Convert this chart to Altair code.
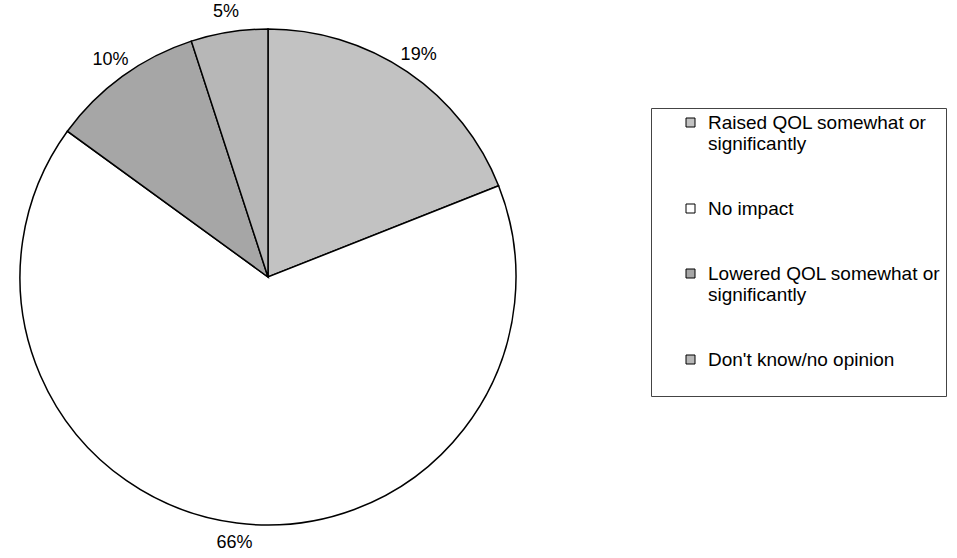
import altair as alt
import pandas as pd

# Data
categories = [
    "Raised QOL somewhat or|significantly",
    "No impact",
    "Lowered QOL somewhat or|significantly",
    "Don't know/no opinion",
]
values = [19, 66, 10, 5]
pct_labels = ["19%", "66%", "10%", "5%"]
slice_order = [0, 1, 2, 3]
colors = ["#c2c2c2", "#ffffff", "#a6a6a6", "#b7b7b7"]

df = pd.DataFrame(
    {"category": categories, "value": values, "label": pct_labels, "order": slice_order}
)

FONT = "Liberation Sans"
CX, CY = 268, 277
NB = "\u00a0" * 6

label_expr = (
    "indexof(datum.label, '|') >= 0 ? split(replace(datum.label, '|', '" + NB + "|'), '|')"
    " : (indexof(datum.label, 'opinion') >= 0 ? [datum.label, ''] : datum.label)"
)

base = alt.Chart(df).encode(
    theta=alt.Theta("value:Q", stack=True),
    order=alt.Order("order:Q", sort="ascending"),
)

pie = base.mark_arc(
    outerRadius=248, stroke="black", strokeWidth=1.5, x=CX, y=CY
).encode(
    color=alt.Color(
        "category:N",
        scale=alt.Scale(domain=categories, range=colors),
        legend=alt.Legend(
            orient="none",
            legendX=651,
            legendY=108,
            title=None,
            symbolType="square",
            symbolSize=81,
            symbolStrokeColor="black",
            symbolStrokeWidth=1,
            labelFont=FONT,
            labelFontSize=19,
            labelColor="black",
            labelLimit=400,
            labelExpr=label_expr,
            padding=5,
            symbolOffset=25,
            labelOffset=8,
            rowPadding=45,
            strokeColor="#444444",
            fillColor="white",
        ),
    )
)

text = base.mark_text(
    radius=268, font=FONT, fontSize=18, color="black", x=CX, y=CY
).encode(text="label:N")

chart = (
    alt.layer(pie, text)
    .properties(width=957, height=558, autosize=alt.AutoSizeParams(type="none"), padding=0)
    .configure_view(strokeWidth=0)
)

chart.save("out.html", embed_options={"renderer": "svg", "actions": False})
